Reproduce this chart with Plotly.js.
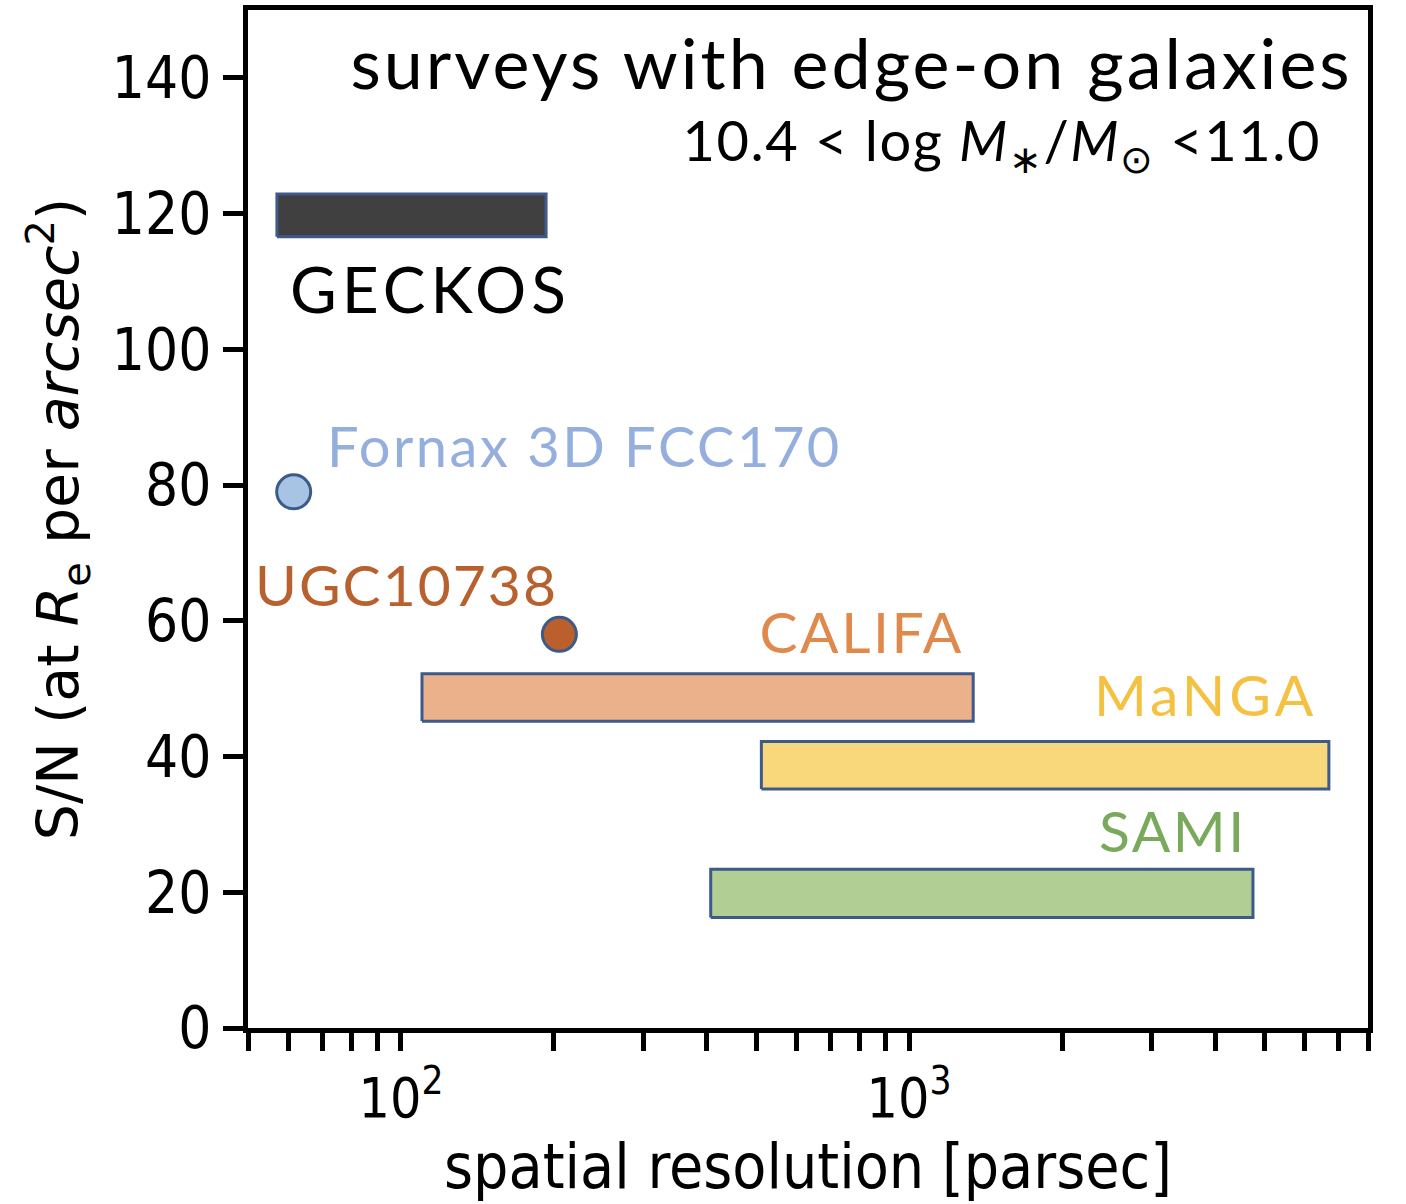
<!DOCTYPE html>
<html>
<head>
<meta charset="utf-8">
<script src="https://cdn.plot.ly/plotly-3.0.1.min.js"></script>
<style>html,body{margin:0;padding:0;background:#fff;}#chart{width:1406px;height:1204px;}</style>
</head>
<body>
<div id="chart"></div>
<script>
// Survey boxes (spatial resolution range [pc], S/N range)
const surveys = ["GECKOS", "CALIFA", "MaNGA", "SAMI"];
const resMin = [57, 110, 512, 407];
const resMax = [193, 1337, 6700, 4750];
const snMin = [116.6, 45.2, 35.2, 16.3];
const snMax = [122.9, 52.2, 42.2, 23.4];
const surveyFill = ["#404040", "#ebb18b", "#f8d87b", "#b1cf95"];
const surveyLabelColor = ["#000000", "#e0894c", "#f5c142", "#79a95a"];

// Individual galaxies
const galaxies = ["Fornax 3D FCC170", "UGC10738"];
const galRes = [61.5, 205];
const galSN = [79.0, 58.0];
const galFill = ["#a7c4e5", "#bb602c"];
const galLabelColor = ["#94aedd", "#b8612f"];

// Axis ticks
const xMajorVals = [100, 1000];
const xMajorText = ["10<sup>2</sup>", "10<sup>3</sup>"];
const xMinorVals = [50,60,70,80,90,200,300,400,500,600,700,800,900,2000,3000,4000,5000,6000,7000,8000];
const yTickVals = [0,20,40,60,80,100,120,140];

const titleText = "surveys with edge-on galaxies";
const massText = "10.4 &lt; log <i>M</i><sub>∗</sub>/<i>M</i><sub>⊙</sub> &lt;11.0";

const edge = "#3d5a8a";
const traces = [];
for (let i = 0; i < surveys.length; i++) {
  traces.push({
    type: "scatter", mode: "lines", name: surveys[i],
    x: [resMin[i], resMax[i], resMax[i], resMin[i], resMin[i]],
    y: [snMin[i], snMin[i], snMax[i], snMax[i], snMin[i]],
    fill: "toself", fillcolor: surveyFill[i],
    line: {color: edge, width: 3},
    hoverinfo: "name", showlegend: false
  });
}
traces.push({
  type: "scatter", mode: "markers", x: galRes, y: galSN, text: galaxies,
  marker: {size: 34, color: galFill, line: {color: edge, width: 3}},
  showlegend: false, hoverinfo: "text"
});

const labelFont = "Lato, 'Noto Sans', sans-serif";
// label centre positions (x in log10 units for the log axis), size, letter spacing
const labels = [
  {text: titleText, x: 2.887, y: 142.3, size: 70, ls: 3, color: "#000"},
  {text: massText, x: 3.183, y: 130.4, size: 56, ls: 1.5, color: "#000"},
  {text: surveys[0], x: 2.058, y: 109.0, size: 64, ls: 5, color: surveyLabelColor[0]},
  {text: galaxies[0], x: 2.3615, y: 85.9, size: 56, ls: 2.5, color: galLabelColor[0]},
  {text: galaxies[1], x: 2.011, y: 65.4, size: 57, ls: 2, color: galLabelColor[1]},
  {text: surveys[1], x: 2.9077, y: 58.5, size: 57, ls: 2.5, color: surveyLabelColor[1]},
  {text: surveys[2], x: 3.5835, y: 49.2, size: 57, ls: 4, color: surveyLabelColor[2]},
  {text: surveys[3], x: 3.5187, y: 29.2, size: 57, ls: 2.5, color: surveyLabelColor[3]}
];
const annotations = labels.map(a => ({
  text: a.text, x: a.x, y: a.y, xref: "x", yref: "y", xanchor: "center", yanchor: "middle",
  showarrow: false, font: {family: labelFont, size: a.size, color: a.color}
}));

const condensed = "'DejaVu Sans Condensed', 'DejaVu Sans', sans-serif";
const layout = {
  width: 1406, height: 1204,
  margin: {l: 248, r: 38, t: 10, b: 176},
  paper_bgcolor: "#ffffff", plot_bgcolor: "#ffffff",
  showlegend: false,
  xaxis: {
    type: "log", range: [Math.log10(50), Math.log10(8000)],
    tickmode: "array", tickvals: xMajorVals, ticktext: xMajorText,
    ticks: "outside", ticklen: 18, tickwidth: 5, tickcolor: "#000",
    minor: {tickmode: "array", tickvals: xMinorVals, ticks: "outside", ticklen: 18, tickwidth: 5, tickcolor: "#000", showgrid: false},
    showline: true, linewidth: 5, linecolor: "#000", mirror: true,
    showgrid: false, zeroline: false,
    tickfont: {family: condensed, size: 55, color: "#000"},
    title: {text: "spatial resolution [parsec]", font: {family: condensed, size: 62, color: "#000"}, standoff: 10}
  },
  yaxis: {
    range: [0, 150], tickmode: "array", tickvals: yTickVals,
    ticks: "outside", ticklen: 20, tickwidth: 5, tickcolor: "#000",
    showline: true, linewidth: 5, linecolor: "#000", mirror: true,
    showgrid: false, zeroline: false,
    ticklabelstandoff: 0,
    tickfont: {family: condensed, size: 58, color: "#000"},
    title: {text: "S/N (at <i>R</i><sub>e</sub> per <i>arcsec</i><sup>2</sup>)", font: {family: "'DejaVu Sans', sans-serif", size: 57, color: "#000"}, standoff: 16}
  },
  annotations: annotations
};

Plotly.newPlot("chart", traces, layout, {displayModeBar: false, staticPlot: true}).then(gd => {
  gd.querySelectorAll("g.annotation").forEach(g => {
    const i = +g.getAttribute("data-index");
    const t = g.querySelector("text.annotation-text");
    if (t && labels[i]) t.style.letterSpacing = labels[i].ls + "px";
  });
});
</script>
</body>
</html>
